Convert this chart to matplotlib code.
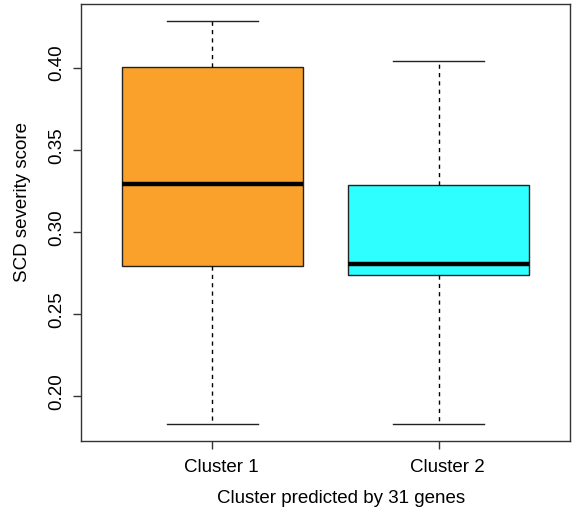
import matplotlib
matplotlib.use("Agg")
import matplotlib.pyplot as plt
from matplotlib.transforms import ScaledTranslation

plt.rcParams['font.family'] = ['Liberation Sans', 'DejaVu Sans']

categories = ["Cluster 1", "Cluster 2"]
whisker_low = [0.1832, 0.1830]
q1 = [0.2795, 0.2739]
median = [0.3290, 0.2807]
q3 = [0.4004, 0.3286]
whisker_high = [0.4286, 0.4041]
colors = ["#F9A12B", "#2EFFFF"]
yticks = [0.20, 0.25, 0.30, 0.35, 0.40]

fig = plt.figure(figsize=(5.74, 5.15), dpi=100)
ax = fig.add_axes([81/574, 74/515, (570-81)/574, (441-4)/515])

stats = []
for i, c in enumerate(categories):
    stats.append(dict(label=c, whislo=whisker_low[i], q1=q1[i], med=median[i],
                      q3=q3[i], whishi=whisker_high[i], fliers=[]))

bp = ax.bxp(stats, positions=[1, 2], widths=0.8, patch_artist=True,
            showfliers=False,
            boxprops=dict(edgecolor='#222222', linewidth=1.0),
            medianprops=dict(color='black', linewidth=3.2, solid_capstyle='butt'),
            whiskerprops=dict(color='black', linewidth=1.0, linestyle=(0, (3, 3))),
            capprops=dict(color='#222222', linewidth=1.0),
            capwidths=0.4)
for patch, col in zip(bp['boxes'], colors):
    patch.set_facecolor(col)

fs = 13.5
ax.set_xlim(0.42, 2.58)
ax.set_ylim(0.1728, 0.4387)
ax.set_yticks(yticks)
ax.set_yticklabels([f"{v:.2f}" for v in yticks], rotation=90, va='center', fontsize=fs)
ax.set_xticks([1, 2])
ax.set_xticklabels(categories, fontsize=fs)
ax.tick_params(axis='both', length=6, width=1, color='#333333')
ax.tick_params(axis='x', pad=7)
ax.tick_params(axis='y', pad=5)
for s in ax.spines.values():
    s.set_color('#333333')
    s.set_linewidth(1.0)

for lab in ax.get_xticklabels():
    lab.set_transform(lab.get_transform() + ScaledTranslation(9/100, 0, fig.dpi_scale_trans))
for lab in ax.get_yticklabels():
    lab.set_transform(lab.get_transform() + ScaledTranslation(0, 4.5/100, fig.dpi_scale_trans))

ax.set_ylabel("SCD severity score", fontsize=fs)
ax.set_xlabel("Cluster predicted by 31 genes", fontsize=fs)
ax.xaxis.set_label_coords((341-81)/489, (441-490)/437)
ax.yaxis.set_label_coords((31-81)/489, (441-202)/437)

fig.savefig("out.png", dpi=100)
